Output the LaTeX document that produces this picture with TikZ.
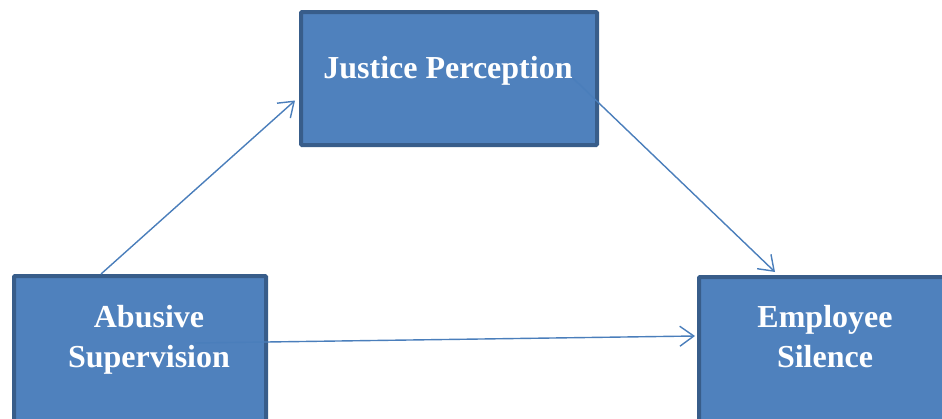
\documentclass[tikz,border=0pt]{standalone}
\usepackage{fontspec}
\setmainfont{Liberation Serif}
\usetikzlibrary{arrows.meta,positioning,calc}
\definecolor{boxfill}{HTML}{4F81BD}
\definecolor{boxline}{HTML}{385D8A}
\definecolor{linkblue}{HTML}{4A7EBB}
\tikzset{
  varbox/.style={draw=boxline,fill=boxfill,line width=4pt,rounded corners=1pt,inner sep=0pt},
  vartext/.style={text=white,font=\bfseries\fontsize{32}{40}\selectfont,align=center,inner sep=0pt},
  link/.style={draw=linkblue,line width=1.4pt,-{Straight Barb[length=14pt,width=20pt,line width=1.4pt]}}
}
\begin{document}
\begin{tikzpicture}[x=1pt,y=-1pt]
  \useasboundingbox (0,0) rectangle (942,418);
  \clip (0,0) rectangle (942,418);
  % mediation model: three variables
  \node[varbox,minimum width=296pt,minimum height=133pt] (jp) at (449,78.5) {};
  \node[varbox,minimum width=252pt,minimum height=184pt] (as) at (140,368) {};
  \node[varbox,minimum width=262pt,minimum height=184pt] (es) at (830,369) {};
  \node[vartext,anchor=base] (jp-text) at (448,78) {Justice Perception};
  \node[vartext] (as-text) at (149,340) {Abusive\\Supervision};
  \node[vartext] (es-text) at (825,337) {Employee\\Silence};
  % paths
  \coordinate (as-top) at ($(as.north west)+(89,0)$);
  \coordinate (jp-in) at ($(jp.west)+(-4,22)$);
  \coordinate (jp-out) at ($(jp-text.base east)+(0,0)$);
  \coordinate (es-top) at ($(es.north west)+(78,-3)$);
  \coordinate (as-mid) at ($(as.center)+(55,-25)$);
  \coordinate (es-in) at ($(es.west)+(-2,-33)$);
  \draw[link] (as-top) -- (jp-in);
  \draw[link] (jp-out) -- (es-top);
  \draw[link] (as-mid) -- (es-in);
\end{tikzpicture}
\end{document}
